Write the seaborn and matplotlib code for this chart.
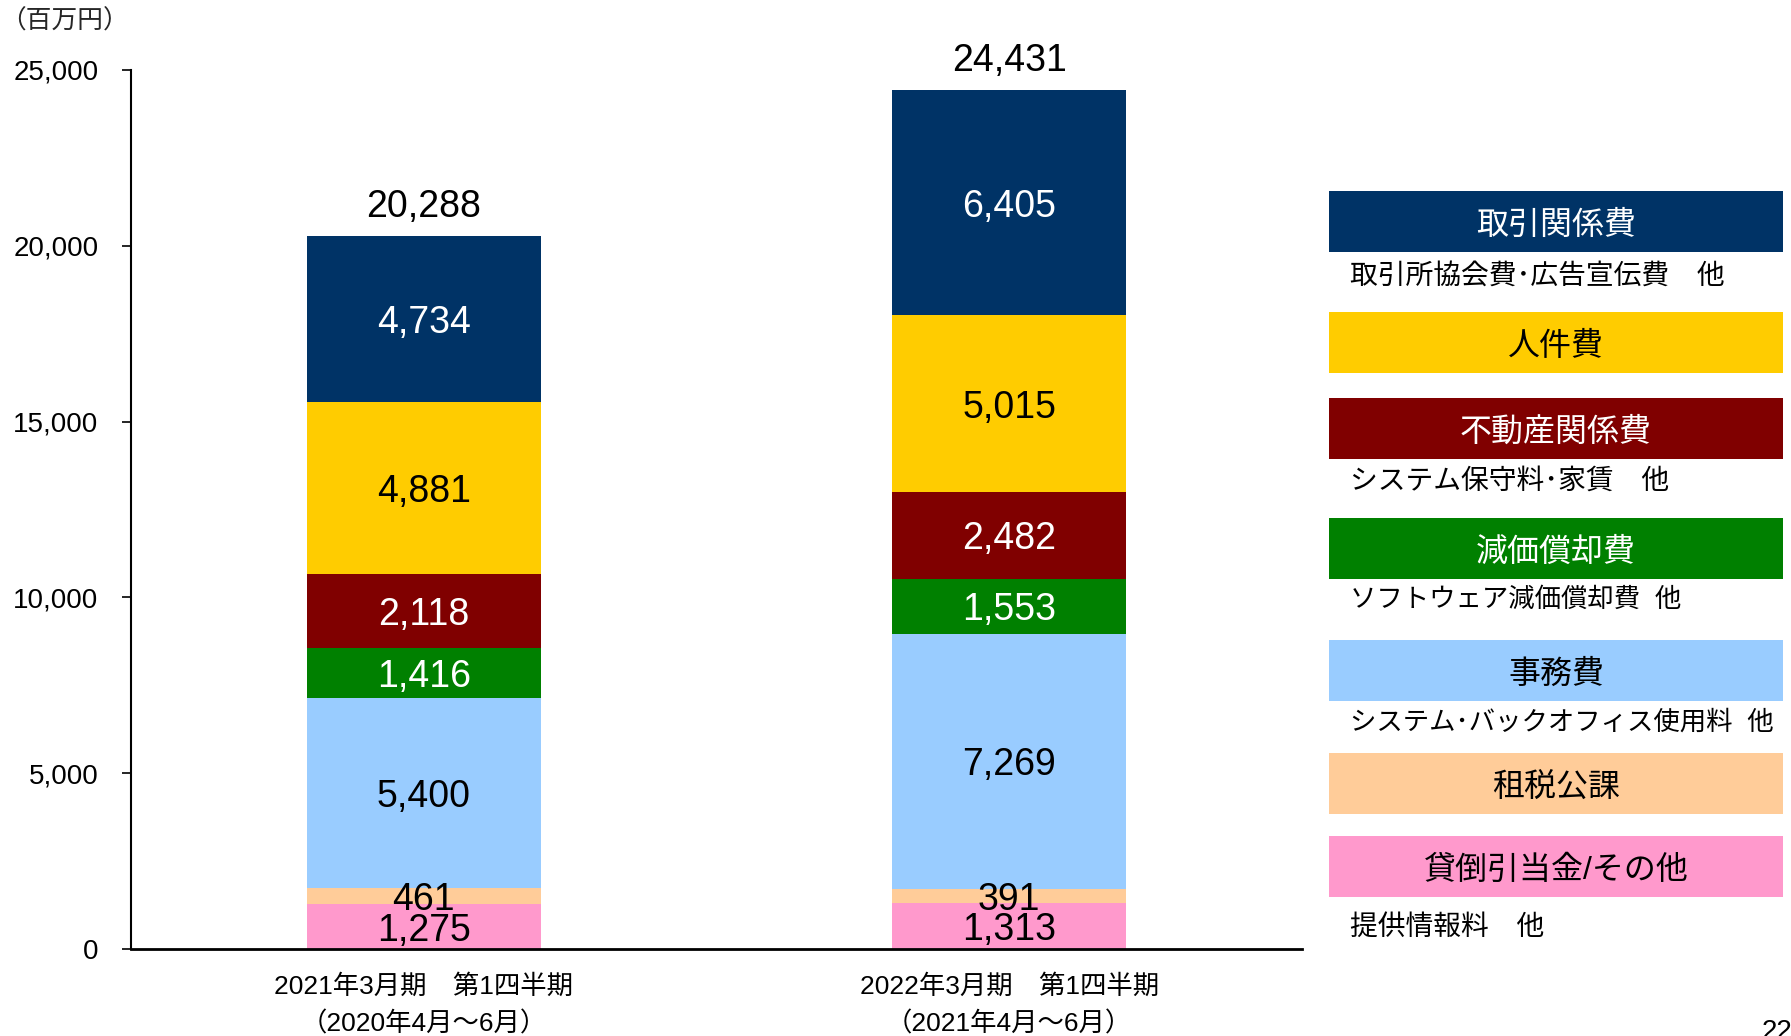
import matplotlib
matplotlib.use("Agg")
import matplotlib.pyplot as plt
from matplotlib.patches import Rectangle
from matplotlib.ticker import FuncFormatter
import seaborn as sns
import pandas as pd

# Data (segments listed bottom -> top)
periods = ['2021年3月期　第1四半期\n（2020年4月～6月）',
           '2022年3月期　第1四半期\n（2021年4月～6月）']
cats = ['貸倒引当金/その他', '租税公課', '事務費', '減価償却費', '不動産関係費', '人件費', '取引関係費']
vals_2021 = [1275, 461, 5400, 1416, 2118, 4881, 4734]
vals_2022 = [1313, 391, 7269, 1553, 2482, 5015, 6405]
totals = [20288, 24431]
subtitles = ['提供情報料　他', '', 'システム･バックオフィス使用料  他', 'ソフトウェア減価償却費  他',
             'システム保守料･家賃　他', '', '取引所協会費･広告宣伝費　他']

colors = ['#FF99CC', '#FFCC99', '#99CCFF', '#008000', '#800000', '#FFCC00', '#003366']
text_colors = ['black', 'black', 'black', 'white', 'white', 'black', 'white']

# Set aesthetics
sns.set_theme(style="ticks")
plt.rcParams['font.family'] = ['Liberation Sans', 'Noto Sans CJK JP', 'DejaVu Sans']

# long table with cumulative heights for the overlap-stacking trick
rows = []
for period, vals in zip(periods, [vals_2021, vals_2022]):
    cum = 0
    for cat, v in zip(cats, vals):
        cum += v
        rows.append({'period': period, 'cat': cat, 'value': v, 'cum': cum})
df = pd.DataFrame(rows)

W, H = 1791, 1036
fig = plt.figure(figsize=(W / 100, H / 100), dpi=100)
ax = fig.add_axes([131 / W, 1 - 949 / H, 1171 / W, 879 / H])

for i in range(len(cats) - 1, -1, -1):
    sub = df[df['cat'] == cats[i]]
    sns.barplot(data=sub, x='period', y='cum', order=periods, color=colors[i],
                saturation=1, width=0.4, linewidth=0, errorbar=None, ax=ax)

# segment labels
for j, period in enumerate(periods):
    sub = df[df['period'] == period].reset_index(drop=True)
    for i, r in sub.iterrows():
        ax.annotate(f"{r['value']:,}", (j, r['cum'] - r['value'] / 2), xytext=(0, -3),
                    textcoords='offset points', ha='center', va='center',
                    fontsize=27, color=text_colors[i])
    ax.annotate(f'{totals[j]:,}', (j, totals[j]), xytext=(0, 13.5), textcoords='offset points',
                ha='center', va='baseline', fontsize=27, color='black')

ax.set_ylim(0, 25000)
ax.set_xlim(-0.5, 1.5)
ax.set_yticks(range(0, 25001, 5000))
ax.yaxis.set_major_formatter(FuncFormatter(lambda v, p: f'{int(v):,}'))
ax.set_xlabel('')
ax.set_ylabel('')
ax.tick_params(axis='y', labelsize=20, length=6.5, width=1.2, pad=17, colors='black')
ax.tick_params(axis='x', labelsize=19, length=0, pad=18, colors='black')
for lab in ax.get_xticklabels():
    lab.set_linespacing(1.65)
for s in ['top', 'right']:
    ax.spines[s].set_visible(False)
ax.spines['left'].set_linewidth(1.5)
ax.spines['bottom'].set_linewidth(2)
ax.spines['left'].set_color('black')
ax.spines['bottom'].set_color('black')

fig.text(0, 1 - 21 / H, '（百万円）', va='center', ha='left', fontsize=18.5)

# legend panel, drawn in pixel coordinates of the figure
ov = fig.add_axes([0, 0, 1, 1], facecolor='none')
ov.set_xlim(0, W)
ov.set_ylim(H, 0)
ov.axis('off')

box_tops = [836, 753, 640, 518, 398, 312, 191]
sub_y = [928, None, 722, 600, 482, None, 277]
sub_size = [20, None, 19, 19, 20, None, 20]
box_x0, box_w, box_h = 1329, 454, 61
for i in range(len(cats)):
    ov.add_patch(Rectangle((box_x0, box_tops[i]), box_w, box_h, facecolor=colors[i], edgecolor='none'))
    ov.text(box_x0 + box_w / 2, box_tops[i] + box_h / 2 + 4, cats[i], ha='center', va='center',
            fontsize=23, color=text_colors[i])
    if subtitles[i]:
        ov.text(1350, sub_y[i], subtitles[i], ha='left', va='center', fontsize=sub_size[i], color='black')

ov.text(1762, 1019, '22', ha='left', va='top', fontsize=20, color='black')

fig.savefig('out.png', dpi=100, facecolor='white')
plt.close()
